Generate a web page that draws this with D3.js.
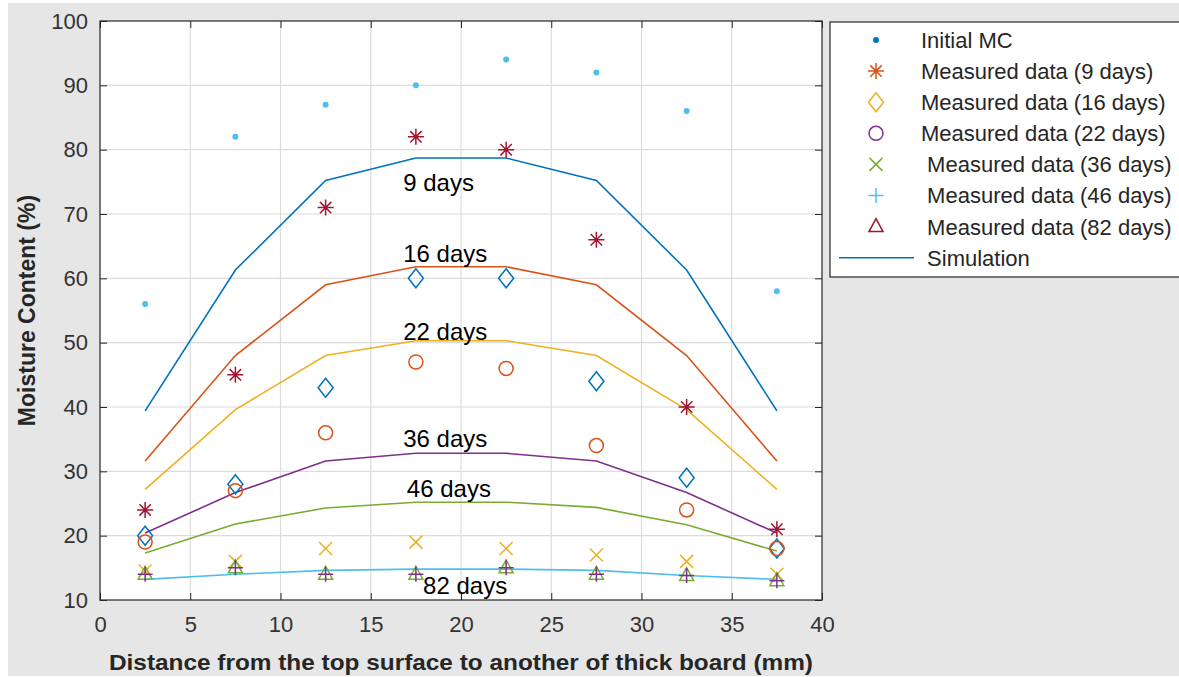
<!DOCTYPE html>
<html>
<head>
<meta charset="utf-8">
<script src="https://cdn.jsdelivr.net/npm/d3@7/dist/d3.min.js"></script>
<style>
  body { margin: 0; background: #fff; }
  text { font-family: "Liberation Sans", Arial, Helvetica, sans-serif; }
</style>
</head>
<body>
<svg id="chart"></svg>
<script>
const width = 1179;
const height = 677;

// data
const positions = [2.5, 7.5, 12.5, 17.5, 22.5, 27.5, 32.5, 37.5];
const initialMC = [56, 82, 87, 90, 94, 92, 86, 58];
const measured9 = [24, 45, 71, 82, 80, 66, 40, 21];
const measured16 = [20, 28, 43, 60, 60, 44, 29, 18];
const measured22 = [19, 27, 36, 47, 46, 34, 24, 18];
const measured36 = [14.5, 16, 18, 19, 18, 17, 16, 14];
const measured46 = [14, 15, 14, 14, 15, 14, 13.8, 13];
const measured82 = [14, 15, 14, 14, 15, 14, 13.8, 13];
const sim9 = [39.4, 61.3, 75.2, 78.7, 78.7, 75.2, 61.3, 39.4];
const sim16 = [31.6, 48.0, 59.0, 61.8, 61.8, 59.0, 48.0, 31.6];
const sim22 = [27.2, 39.6, 48.0, 50.3, 50.3, 48.0, 39.6, 27.2];
const sim36 = [20.4, 26.7, 31.6, 32.8, 32.8, 31.6, 26.7, 20.4];
const sim46 = [17.3, 21.8, 24.3, 25.2, 25.2, 24.4, 21.7, 17.6];
const sim82 = [13.2, 14.0, 14.6, 14.8, 14.8, 14.6, 13.8, 13.2];
const curveLabels = ["9 days", "16 days", "22 days", "36 days", "46 days", "82 days"];
const curveLabelX = [16.8, 16.8, 16.8, 16.8, 17.0, 17.9];
const curveLabelY = [73.6, 62.5, 50.4, 33.8, 26.0, 10.9];
const legendLabels = ["Initial MC", "Measured data (9 days)", "Measured data (16 days)",
  "Measured data (22 days)", " Measured data (36 days)", " Measured data (46 days)",
  " Measured data (82 days)", " Simulation"];
const xTicks = [0, 5, 10, 15, 20, 25, 30, 35, 40];
const yTicks = [10, 20, 30, 40, 50, 60, 70, 80, 90, 100];

// matlab colours
const blue = "#0072BD", orange = "#D95319", yellow = "#EDB120", purple = "#7E2F8E",
  green = "#77AC30", cyan = "#4DBEEE", darkred = "#A2142F";

const svg = d3.select("#chart").attr("width", width).attr("height", height);

svg.append("rect").attr("x", 8).attr("y", 3).attr("width", width - 8).attr("height", height - 4)
  .attr("fill", "#e6e6e6");

const pLeft = 100, pRight = 822, pTop = 21, pBottom = 600;
const x = d3.scaleLinear().domain([0, 40]).range([pLeft, pRight]);
const y = d3.scaleLinear().domain([10, 100]).range([pBottom, pTop]);

svg.append("rect").attr("x", pLeft).attr("y", pTop).attr("width", pRight - pLeft).attr("height", pBottom - pTop)
  .attr("fill", "#fff");

// grid
const grid = svg.append("g");
grid.selectAll(".gx").data(xTicks.slice(1, -1)).enter().append("line")
  .attr("x1", d => x(d)).attr("x2", d => x(d)).attr("y1", pTop).attr("y2", pBottom)
  .attr("stroke", "#dcdcdc").attr("stroke-width", 1.2);
grid.selectAll(".gy").data(yTicks.slice(1, -1)).enter().append("line")
  .attr("y1", d => y(d)).attr("y2", d => y(d)).attr("x1", pLeft).attr("x2", pRight)
  .attr("stroke", "#dcdcdc").attr("stroke-width", 1.2);

// axes, ticks pointing inward
function styleAxis(g, showText) {
  g.select(".domain").remove();
  g.selectAll(".tick line").attr("stroke", "#262626");
  g.selectAll(".tick text").attr("fill", "#333").style("font-size", "22px")
    .style("font-family", '"Liberation Sans", Arial, sans-serif')
    .style("display", showText ? null : "none");
}
svg.append("g").attr("transform", `translate(0,${pBottom})`)
  .call(d3.axisBottom(x).tickValues(xTicks).tickSize(-7).tickPadding(16))
  .call(g => styleAxis(g, true));
svg.append("g").attr("transform", `translate(0,${pTop})`)
  .call(d3.axisTop(x).tickValues(xTicks).tickSize(-7))
  .call(g => styleAxis(g, false));
svg.append("g").attr("transform", `translate(${pLeft},0)`)
  .call(d3.axisLeft(y).tickValues(yTicks).tickSize(-7).tickPadding(12))
  .call(g => styleAxis(g, true));
svg.append("g").attr("transform", `translate(${pRight},0)`)
  .call(d3.axisRight(y).tickValues(yTicks).tickSize(-7))
  .call(g => styleAxis(g, false));

svg.append("rect").attr("x", pLeft).attr("y", pTop).attr("width", pRight - pLeft).attr("height", pBottom - pTop)
  .attr("fill", "none").attr("stroke", "#262626").attr("stroke-width", 1.2);

// simulation lines
const line = d3.line().x((d, i) => x(positions[i])).y(d => y(d));
const sims = [[sim9, blue], [sim16, orange], [sim22, yellow], [sim36, purple], [sim46, green], [sim82, cyan]];
svg.append("g").selectAll("path").data(sims).enter().append("path")
  .attr("d", d => line(d[0])).attr("fill", "none").attr("stroke", d => d[1]).attr("stroke-width", 1.6);

// markers
function marker(type) {
  switch (type) {
    case "dot": return d3.symbol(d3.symbolCircle, 28)();
    case "star": { const r = 8, a = 5.7;
      return `M0,${-r}L0,${r}M${-r},0L${r},0M${-a},${-a}L${a},${a}M${-a},${a}L${a},${-a}`; }
    case "diamond": return "M0,-9.5L7.5,0L0,9.5L-7.5,0Z";
    case "circle": return d3.symbol(d3.symbolCircle, Math.PI * 49)();
    case "x": { const a = 6.5; return `M${-a},${-a}L${a},${a}M${-a},${a}L${a},${-a}`; }
    case "plus": { const r = 7.5; return `M0,${-r}L0,${r}M${-r},0L${r},0`; }
    case "triangle": return "M0,-8L7,5L-7,5Z";
  }
}
const series = [
  [initialMC, "dot", cyan],
  [measured9, "star", darkred],
  [measured16, "diamond", blue],
  [measured22, "circle", orange],
  [measured36, "x", yellow],
  [measured82, "triangle", green],
  [measured46, "plus", purple]
];
series.forEach(([vals, type, col]) => {
  svg.append("g").selectAll("path").data(vals).enter().append("path")
    .attr("transform", (d, i) => `translate(${x(positions[i])},${y(d)})`)
    .attr("d", marker(type))
    .attr("fill", type === "dot" ? col : "none")
    .attr("stroke", col).attr("stroke-width", type === "dot" ? 0 : 1.5);
});

// curve labels
svg.append("g").selectAll("text").data(curveLabels).enter().append("text")
  .attr("x", (d, i) => x(curveLabelX[i])).attr("y", (d, i) => y(curveLabelY[i]))
  .style("font-size", "24px").attr("fill", "#000").text(d => d);

// axis titles
svg.append("text").attr("x", (pLeft + pRight) / 2).attr("y", 670).attr("text-anchor", "middle")
  .style("font-size", "22px").style("font-weight", "bold").attr("fill", "#262626")
  .attr("textLength", 704).attr("lengthAdjust", "spacingAndGlyphs")
  .text("Distance from the top surface to another of thick board (mm)");
svg.append("text").attr("transform", `translate(35,${(pTop + pBottom) / 2}) rotate(-90)`)
  .attr("text-anchor", "middle").style("font-size", "23px").style("font-weight", "bold")
  .attr("fill", "#262626").text("Moisture Content (%)");

// legend
const legend = svg.append("g");
legend.append("rect").attr("x", 830).attr("y", 22).attr("width", 370).attr("height", 255)
  .attr("fill", "#fff").attr("stroke", "#262626").attr("stroke-width", 1.2);
const legendMarks = [["dot", blue], ["star", orange], ["diamond", yellow], ["circle", purple],
  ["x", green], ["plus", cyan], ["triangle", darkred], ["line", blue]];
const rowY = i => 40 + i * 31.1;
legend.selectAll(".lm").data(legendMarks).enter().append("path")
  .attr("transform", (d, i) => `translate(876,${rowY(i)})`)
  .attr("d", d => d[0] === "line" ? "M-37,0L38,0" : marker(d[0]))
  .attr("fill", d => d[0] === "dot" ? d[1] : "none")
  .attr("stroke", d => d[1]).attr("stroke-width", d => d[0] === "dot" ? 0 : 1.5);
legend.selectAll("text").data(legendLabels).enter().append("text")
  .attr("x", 921).attr("y", (d, i) => rowY(i)).attr("dy", "0.36em")
  .style("font-size", "22px").style("white-space", "pre").attr("fill", "#262626")
  .text(d => d);
</script>
</body>
</html>
